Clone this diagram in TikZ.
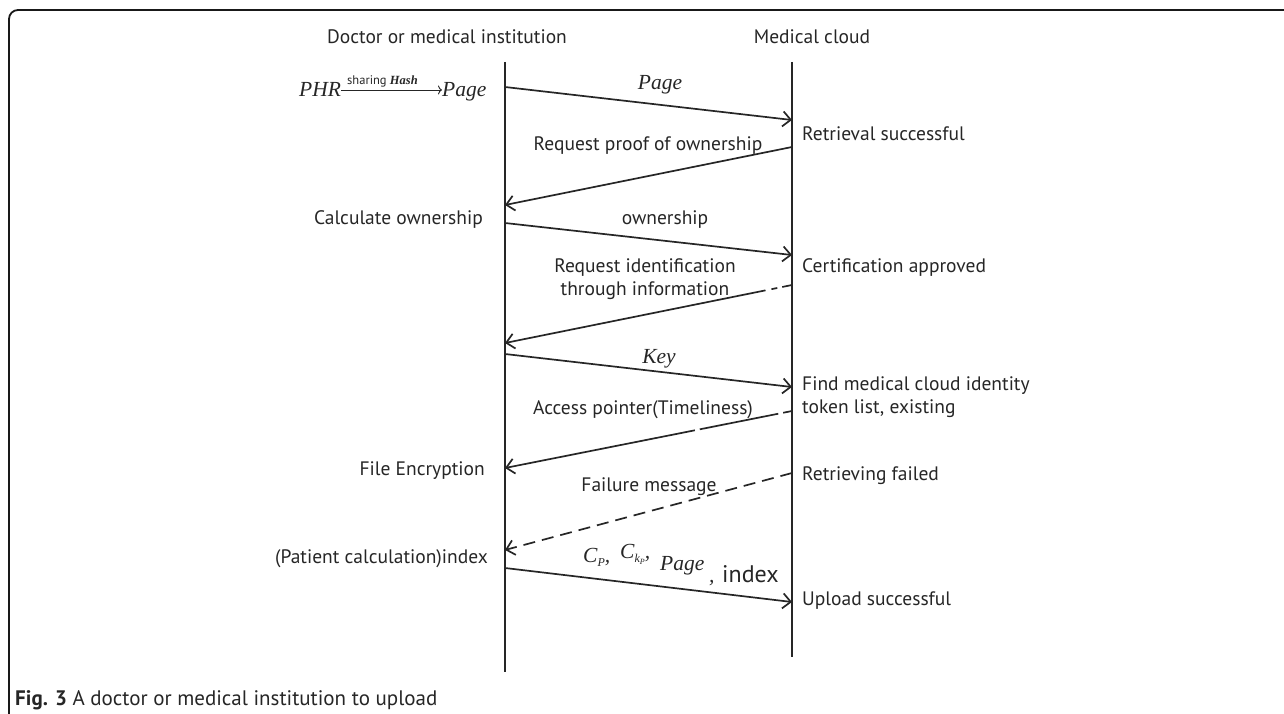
\documentclass[tikz,border=0pt]{standalone}
\usepackage{fontspec}
\setmainfont{PT Sans}
\newfontfamily\tnr{Liberation Serif}
\usetikzlibrary{arrows.meta}
\tikzset{
  life/.style={line width=1.8pt, draw=black!85},
  msg/.style={line width=1.7pt, draw=black!85, -{Straight Barb[length=8pt,width=15pt,line width=1.7pt]}},
  dmsg/.style={msg, dash pattern=on 12pt off 7pt},
  lab/.style={font=\fontsize{19.5}{23}\selectfont, inner sep=0pt, text=black!85},
  rlab/.style={lab, anchor=west, align=left},
  llab/.style={lab, anchor=east, align=right},
  mathlab/.style={inner sep=0pt, text=black!85, font=\tnr\itshape\fontsize{21.5}{24}\selectfont},
}
\newcommand{\subsc}[1]{\raisebox{-4pt}{\fontsize{12}{12}\selectfont #1}}
\begin{document}
\begin{tikzpicture}[x=1pt,y=-1pt]
\useasboundingbox (0,0) rectangle (1284,714);
% frame
\draw[line width=1.8pt, rounded corners=9pt, draw=black!90] (9,716) -- (9,10) -- (1286,10);
% headers
\node[lab] (hdoc) at (447,37) {Doctor or medical institution};
\node[lab] (hcloud) at (812,37) {Medical cloud};
% lifelines
\coordinate (Ltop) at (505,62);
\coordinate (Lbot) at (505,672);
\coordinate (Rtop) at (792,62);
\coordinate (Rbot) at (792,657);
\draw[life] (Ltop) -- (Lbot);
\draw[life] (Rtop) -- (Rbot);
% message end points
\coordinate (a1) at (505,87);  \coordinate (b1) at (792,120);
\coordinate (b2) at (792,147); \coordinate (a2) at (505,205);
\coordinate (a3) at (505,223); \coordinate (b3) at (792,255);
\coordinate (b4) at (792,285); \coordinate (a4) at (505,343);
\coordinate (a5) at (505,354); \coordinate (b5) at (792,387);
\coordinate (b6) at (792,411); \coordinate (a6) at (505,468);
\coordinate (b7) at (792,473); \coordinate (a7) at (505,550);
\coordinate (a8) at (505,568); \coordinate (b8) at (792,602);
% messages
\draw[msg] (a1) -- (b1);
\draw[msg] (b2) -- (a2);
\draw[msg] (a3) -- (b3);
\draw[msg, dash pattern=on 10pt off 5pt on 6pt off 6pt on 600pt] (b4) -- (a4);
\draw[msg] (a5) -- (b5);
\draw[msg, dash pattern=on 9pt off 5pt on 80pt off 5pt on 600pt] (b6) -- (a6);
\draw[dmsg] (b7) -- (a7);
\draw[msg] (a8) -- (b8);
% message labels
\node[mathlab] (m1) at (660,85) {Page};
\node[lab] (m2) at (648,146) {Request proof of ownership};
\node[lab] (m3) at (665,220) {ownership};
\node[lab, align=center] (m4) at (645,279) {Request identification\\through information};
\node[mathlab] (m5) at (659,359) {Key};
\node[lab] (m6) at (643,410) {Access pointer(Timeliness)};
\node[lab] (m7) at (649,487) {Failure message};
\node[mathlab, anchor=base west] (m8a) at (583,562) {C\subsc{P},};
\node[mathlab, anchor=base west] (m8b) at (620,558) {C\subsc{k\raisebox{-2pt}{\fontsize{8}{8}\selectfont P}},};
\node[mathlab, anchor=base west] (m8c) at (660,570) {Page};
\node[mathlab, anchor=base west] (m8d) at (709,582) {,};
\node[lab, anchor=base west, font=\fontsize{24}{26}\selectfont] (m8e) at (722,582) {index};
% left notes
\node[mathlab, anchor=base west] (phr) at (299,97) {PHR};
\node[mathlab, anchor=base west] (pg) at (442,97) {Page};
\draw[line width=0.9pt, draw=black!85, -{To[length=4pt,width=9pt]}] (phr.east) -- (phr.east -| pg.west);
\node[inner sep=0pt, text=black!85, anchor=base west] (shr) at (347,85) {\fontsize{12.5}{13}\selectfont sharing \tnr\bfseries\itshape Hash};
\node[llab] (n1) at (483,220) {Calculate ownership};
\node[llab] (n2) at (485,471) {File Encryption};
\node[llab] (n3) at (488,559) {(Patient calculation)index};
% right notes
\node[rlab] (r1) at (802,134) {Retrieval successful};
\node[rlab] (r2) at (802,268) {Certification approved};
\node[rlab] (r3) at (802,397) {Find medical cloud identity\\token list, existing};
\node[rlab] (r4) at (802,476) {Retrieving failed};
\node[rlab] (r5) at (802,601) {Upload successful};
% caption
\node[anchor=west, inner sep=0pt, text=black!85, font=\fontsize{21}{23}\selectfont] (cap) at (15,700) {\textbf{Fig. 3} A doctor or medical institution to upload};
\end{tikzpicture}
\end{document}
